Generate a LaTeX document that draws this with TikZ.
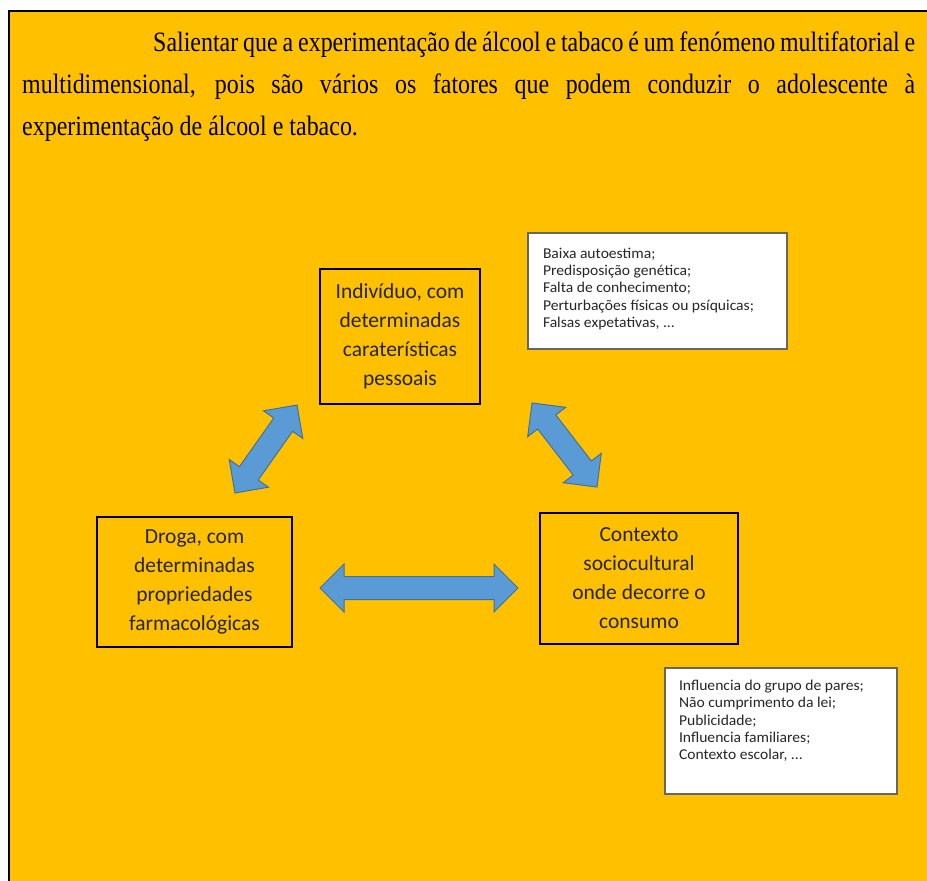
\documentclass[tikz,border=0pt]{standalone}
\usepackage{fontspec}
\setmainfont{Liberation Serif}
\newfontfamily\introfont[FakeStretch=0.855]{Liberation Serif}
\newfontfamily\labelfont{Carlito}
\newfontfamily\notefont[FakeStretch=1.04]{Carlito}

\definecolor{panelgold}{HTML}{FFC000}
\definecolor{arrowfill}{HTML}{5B9BD5}
\definecolor{arrowedge}{HTML}{41719C}

% double-headed block arrow: centre, angle, length
\newcommand\blockarrow[3]{%
  \begin{scope}[shift={#1}, rotate=#2]
    \filldraw[fill=arrowfill, draw=arrowedge, line width=1pt, line join=miter]
      ({-#3/2},0) -- ({-#3/2+24},24) -- ({-#3/2+24},11.5) -- ({#3/2-24},11.5)
      -- ({#3/2-24},24) -- ({#3/2},0) -- ({#3/2-24},-24) -- ({#3/2-24},-11.5)
      -- ({-#3/2+24},-11.5) -- ({-#3/2+24},-24) -- cycle;
  \end{scope}}

\begin{document}
\begin{tikzpicture}[x=1pt, y=-1pt,
  factorbox/.style={draw=black, line width=2pt, inner sep=0pt, align=center,
    font=\labelfont\fontsize{21.5}{29}\selectfont, text=black!85},
  notebox/.style={draw=black!60, line width=1.1pt, fill=white, inner sep=0pt,
    font=\notefont\fontsize{15}{17.3}\selectfont, text=black!85}]
  \useasboundingbox (0,0) rectangle (927,881);
  \fill[white] (0,0) rectangle (927,881);
  \filldraw[fill=panelgold, draw=black, line width=2.2pt] (9,11) rectangle (960,920);

  % introductory paragraph
  \node[anchor=base west, text width=893pt, align=justify, inner sep=0pt,
    font=\introfont\fontsize{28}{42}\selectfont] (intro) at (22,51)
    {\tolerance=9999\hyphenpenalty=10000\spaceskip=6pt plus 30pt minus 2.5pt\relax
     \hspace*{131pt}Salientar que a experimentação de álcool e tabaco é um fenómeno multifatorial e\linebreak
     multidimensional, pois são vários os fatores que podem conduzir o adolescente à\linebreak
     experimentação de álcool e tabaco.};

  % the three factors
  \node[factorbox, minimum width=160pt, minimum height=135pt] (individuo) at (400,336.5)
    {Indivíduo, com\\determinadas\\caraterísticas\\pessoais};
  \node[factorbox, minimum width=195pt, minimum height=130pt] (droga) at (194.5,582)
    {Droga, com\\determinadas\\propriedades\\farmacológicas};
  \node[factorbox, minimum width=198pt, minimum height=131pt] (contexto) at (639,578.5)
    {Contexto\\sociocultural\\onde decorre o\\consumo};

  % notes
  \node[notebox, minimum width=259pt, minimum height=116pt] (pessoais) at (657.5,291)
    {\parbox[c][116pt][t]{229pt}{\vspace*{15pt}Baixa autoestima;\\Predisposição genética;\\Falta de conhecimento;\\Perturbações físicas ou psíquicas;\\Falsas expetativas, ...}};
  \node[notebox, minimum width=232pt, minimum height=126pt] (sociais) at (781,731)
    {\parbox[c][126pt][t]{204pt}{\vspace*{12pt}Influencia do grupo de pares;\\Não cumprimento da lei;\\Publicidade;\\Influencia familiares;\\Contexto escolar, ...}};

  % block arrows between the factors
  \blockarrow{(266,449)}{54.8}{107.6}
  \blockarrow{(564.5,445)}{-52.3}{106.2}
  \blockarrow{(419,588)}{0}{198}
\end{tikzpicture}
\end{document}
